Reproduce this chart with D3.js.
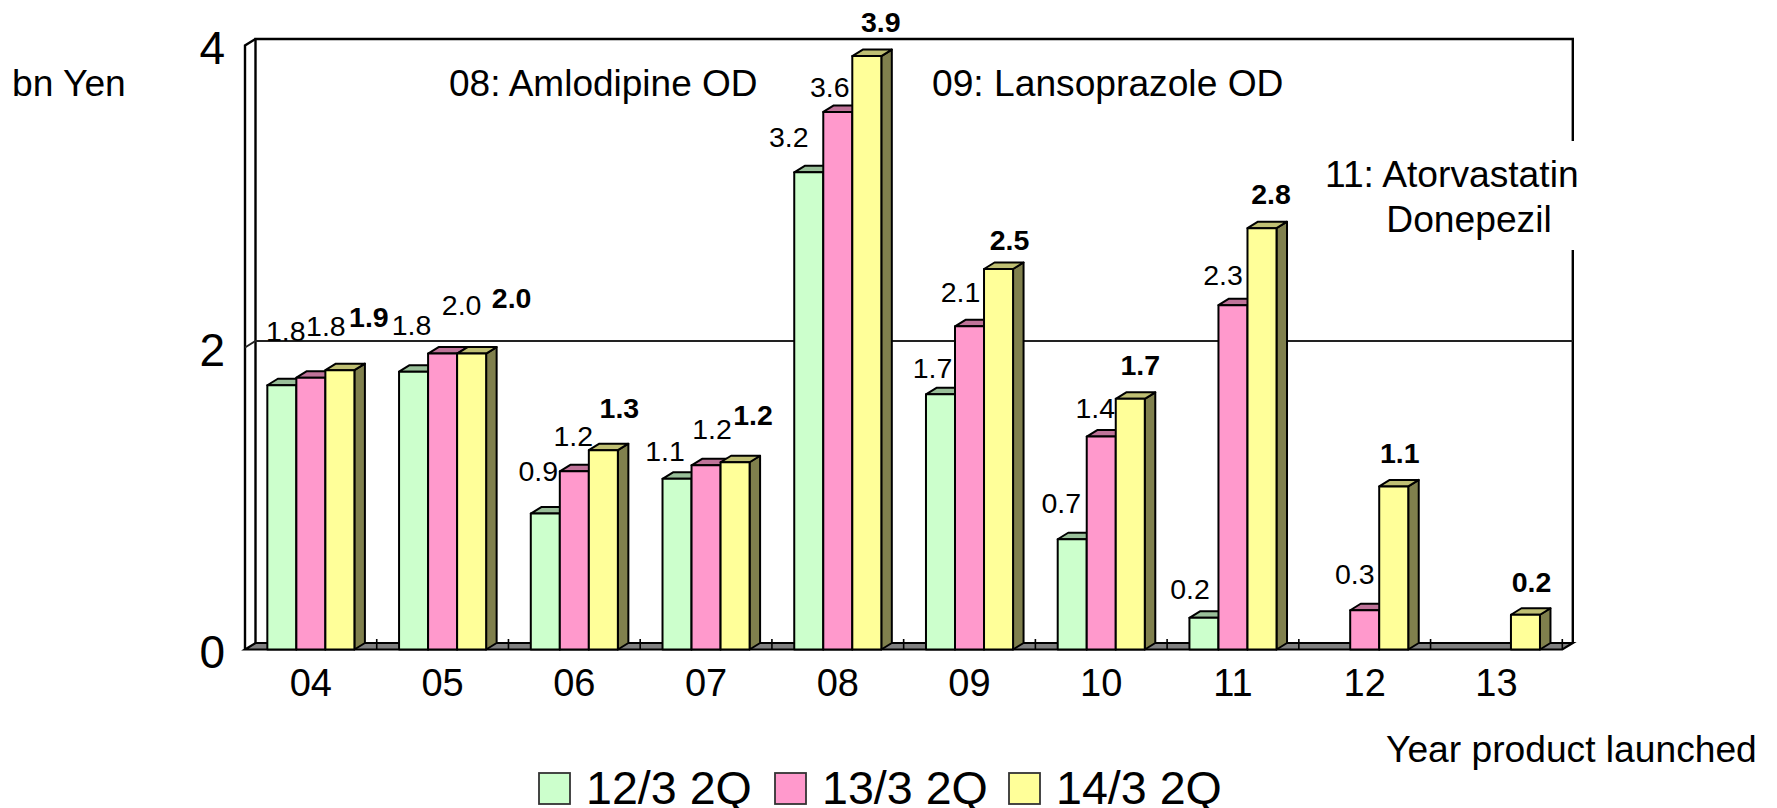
<!DOCTYPE html>
<html><head><meta charset="utf-8">
<script src="https://cdnjs.cloudflare.com/ajax/libs/d3/7.8.5/d3.min.js"></script>
<style>html,body{margin:0;padding:0;background:#fff}svg{display:block}text{font-family:"Liberation Sans",Arial,sans-serif;fill:#000}</style>
</head><body><svg id="c" width="1777" height="808"></svg>
<script>
const categories = ["04","05","06","07","08","09","10","11","12","13"];
const seriesNames = ["12/3 2Q","13/3 2Q","14/3 2Q"];
const values12 = [1.75,1.84,0.90,1.13,3.16,1.69,0.73,0.21,null,null];
const values13 = [1.80,1.96,1.18,1.22,3.56,2.14,1.41,2.28,0.26,null];
const values14 = [1.85,1.96,1.32,1.24,3.93,2.52,1.66,2.79,1.08,0.23];
const yTicks = [0,2,4];
// hand-placed data labels in the original: offset from the bar-top centre
const labelDx12 = [4,-2,-7,-12,-20,-8,-11,-14,0,0];
const labelDx13 = [15,19,-1,6,-8,-9,-6,-10,-10,0];
const labelDx14 = [29,40,16,18,14,11,10,9,6,6];
const labelGap12 = [44,37,33,18,25,16,26,19,0,0];
const labelGap13 = [42,39,25,26,15,24,19,20,26,0];
const labelGap14 = [43,46,32,37,24,19,24,24,23,23];

const seriesValues=[values12,values13,values14], labelDx=[labelDx12,labelDx13,labelDx14], labelGap=[labelGap12,labelGap13,labelGap14];
const front=["#CCFFCC","#FF99CC","#FFFF99"], top_=["#99BF99","#BF7399","#BFBF73"], side=["#668066","#804D66","#80804D"];
const svg=d3.select("#c");
const F=245,R=1562.3, dx=10.5, dy=6.5;
const x=d3.scaleBand().domain(categories).range([F,R]).paddingInner(0.339).paddingOuter(0.1695);
const x1=d3.scaleBand().domain([0,1,2]).range([0,x.bandwidth()]);
const y=d3.scaleLinear().domain([0,4]).range([649.5,45.5]);
const step=x.step();

// walls
const wall=svg.append("g").attr("fill","none").attr("stroke","#000").attr("stroke-width",2.4);
wall.append("path").attr("d",d3.line()([[F+dx,y(0)-dy],[F+dx,y(4)-dy],[R+dx,y(4)-dy],[R+dx,y(0)-dy]]));
wall.append("path").attr("d",d3.line()([[F,y(0)],[F,y(4)],[F+dx,y(4)-dy]]));
yTicks.filter(t=>t>0&&t<4).forEach(t=>{
  svg.append("path").attr("d",d3.line()([[F,y(t)],[F+dx,y(t)-dy],[R+dx,y(t)-dy]])).attr("fill","none").attr("stroke","#222").attr("stroke-width",2);
});
// floor
svg.append("path").attr("d",d3.line()([[F,y(0)],[F+dx,y(0)-dy],[R+dx,y(0)-dy],[R,y(0)]])+"Z")
  .attr("fill","#808080").attr("stroke","#000").attr("stroke-width",2.2);
// category ticks
svg.append("g").selectAll("line").data(d3.range(1,11)).join("line")
  .attr("x1",k=>F+k*step).attr("x2",k=>F+k*step).attr("y1",y(0)-10.5).attr("y2",y(0))
  .attr("stroke","#000").attr("stroke-width",1.6);

// white box behind the 11 annotation, interrupting the frame
svg.append("rect").attr("x",1327).attr("y",141).attr("width",251).attr("height",109).attr("fill","#fff");

// bars
categories.forEach((c,ci)=>{
  seriesValues.forEach((vals,si)=>{
    const v=vals[ci]; if(v==null) return;
    const X=x(c)+x1(si), W=x1.bandwidth(), T=y(v), B=y(0);
    const g=svg.append("g").attr("stroke","#000").attr("stroke-width",2).attr("stroke-linejoin","round");
    g.append("path").attr("d",d3.line()([[X+W,T],[X+W+dx,T-dy],[X+W+dx,B-dy],[X+W,B]])+"Z").attr("fill",side[si]);
    g.append("path").attr("d",d3.line()([[X,T],[X+dx,T-dy],[X+W+dx,T-dy],[X+W,T]])+"Z").attr("fill",top_[si]);
    g.append("rect").attr("x",X).attr("y",T).attr("width",W).attr("height",B-T).attr("fill",front[si]);
  });
});
// data labels
categories.forEach((c,ci)=>{
  seriesValues.forEach((vals,si)=>{
    const v=vals[ci]; if(v==null) return;
    svg.append("text").attr("x",x(c)+x1(si)+x1.bandwidth()/2+labelDx[si][ci]).attr("y",y(v)-labelGap[si][ci])
      .attr("text-anchor","middle").attr("font-size",28.5).attr("font-weight",si==2?700:400)
      .text(v.toFixed(1));
  });
});
// axes
const gy=svg.append("g").attr("transform",`translate(${F},0)`).call(d3.axisLeft(y).tickValues(yTicks).tickSize(0).tickPadding(20).tickFormat(d3.format("d")));
gy.select(".domain").remove();
gy.selectAll("text").attr("font-size",46).attr("dy","0.4em").style("font-family",'"Liberation Sans"');
const gx=svg.append("g").attr("transform",`translate(0,${y(0)})`).call(d3.axisBottom(x).tickSize(0).tickPadding(20));
gx.select(".domain").remove();
gx.selectAll("text").attr("font-size",38).style("font-family",'"Liberation Sans"');

// annotations
const note=(t,xx,yy,s,a)=>svg.append("text").attr("x",xx).attr("y",yy).attr("font-size",s).attr("text-anchor",a||"start").text(t);
note("bn Yen",12,96,37.2);
note("08: Amlodipine OD",449,96,37);
note("09: Lansoprazole OD",932,96,37.2);
note("11: Atorvastatin",1325,187,37.2);
note("Donepezil",1469,232,37.2,"middle");
note("Year product launched",1386,761.5,37.2);
// legend
const legendX=[539,775,1009];
seriesNames.forEach((n,i)=>{
  svg.append("rect").attr("x",legendX[i]).attr("y",773).attr("width",31).attr("height",31).attr("fill",front[i]).attr("stroke","#333").attr("stroke-width",1.8);
  note(n,legendX[i]+47,804,46.6);
});
</script></body></html>
